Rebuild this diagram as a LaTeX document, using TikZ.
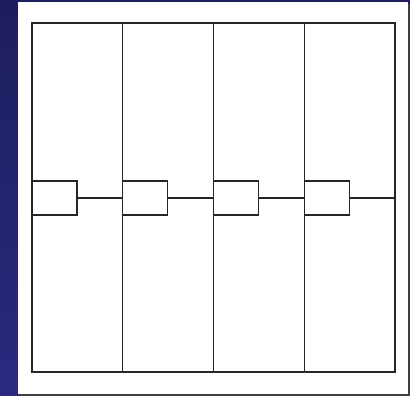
\documentclass[tikz,border=0pt]{standalone}
\usepackage{tikz}

\definecolor{slideblue}{HTML}{2A2A80}
\definecolor{slidedark}{HTML}{1E1E5E}

\tikzset{
  column/.style={draw=black!85,line width=1.1pt,minimum width=90.75pt,minimum height=349pt,inner sep=0pt,outer sep=0pt},
  slot/.style={draw=black!85,line width=1.1pt,fill=white,minimum width=45pt,minimum height=34pt,inner sep=0pt,outer sep=0pt}
}

\begin{document}
\begin{tikzpicture}[x=1pt,y=-1pt]
\useasboundingbox (0,0) rectangle (410,396);
\shade[top color=slidedark,bottom color=slideblue] (0,0) rectangle (410,396);
\fill[black!75] (20,4) rectangle (410,396);
\fill[white] (18,2) rectangle (407.5,393.5);
% four columns
\foreach \i [evaluate=\i as \cx using 32+90.75*(\i-1)+45.375] in {1,...,4}
  \node[column] (col\i) at (\cx,197.5) {};
% small boxes and their links
\foreach \i in {1,...,4} {
  \node[slot,anchor=west] (box\i) at (col\i.west |- 0,198) {};
  \draw[black!85,line width=1.1pt] (box\i.east) -- (col\i.east |- box\i.east);
}
\end{tikzpicture}
\end{document}
